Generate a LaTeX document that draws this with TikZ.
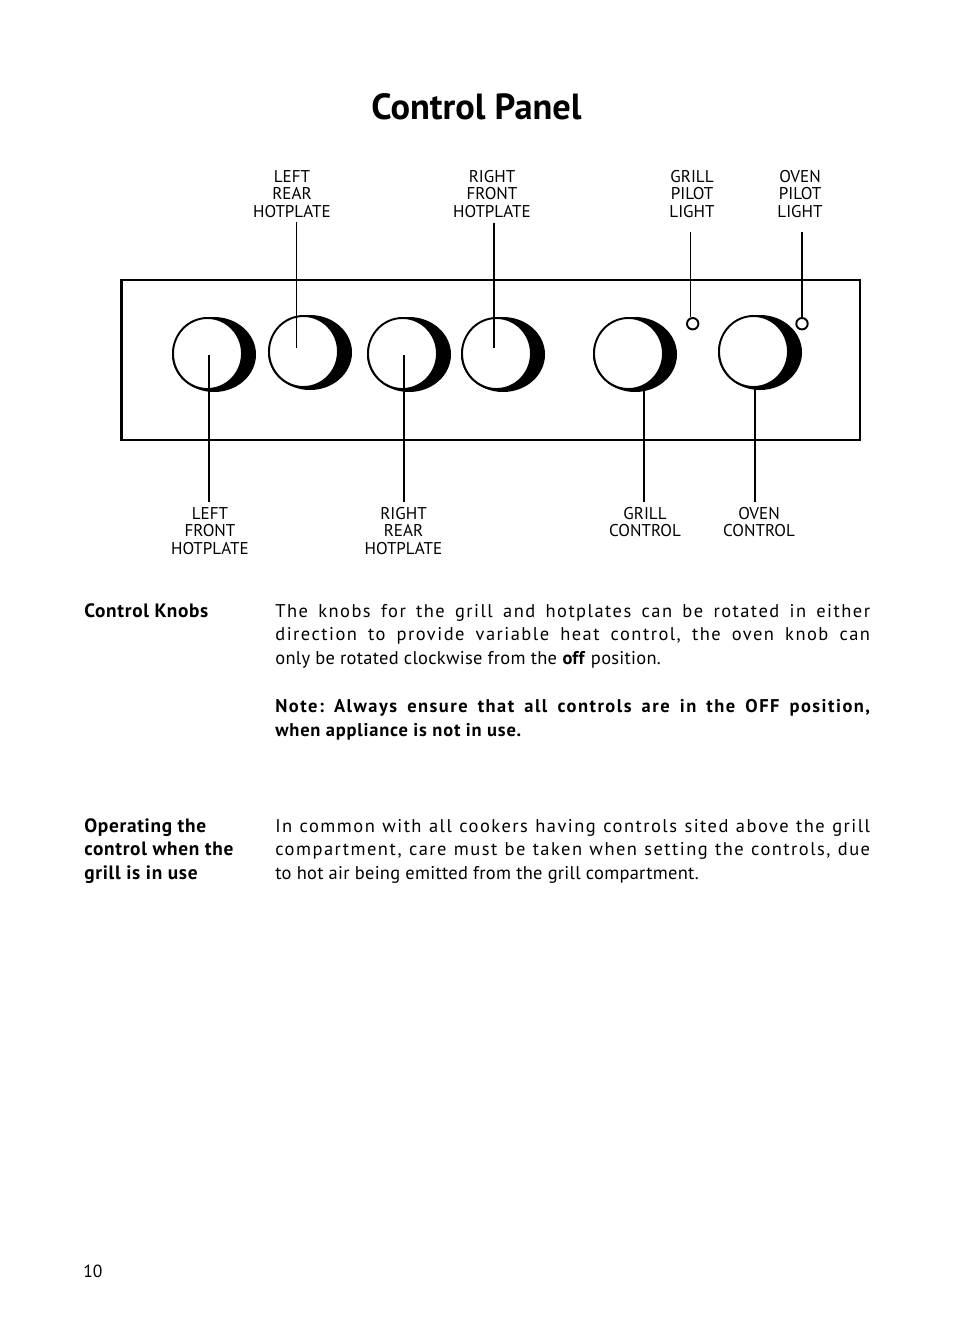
\documentclass[tikz,border=0pt]{standalone}
\usepackage{fontspec}
\setmainfont{PT Sans}
\newfontfamily\spacedfont[LetterSpace=8]{PT Sans}
\newfontfamily\plainfont[LetterSpace=1.5]{PT Sans}
\newfontfamily\headfont[LetterSpace=3.5]{PT Sans}
\newfontfamily\notefont[LetterSpace=4.3]{PT Sans}
\usetikzlibrary{calc, positioning}
\newcommand{\fullline}[1]{\makebox[338.5pt][s]{#1}}
\frenchspacing
\tikzset{
  x=0.02cm, y=-0.02cm,
  partlabel/.style={font=\fontsize{9.7}{9.9}\selectfont, align=center, inner sep=0pt},
  bodytext/.style={font=\fontsize{10.5}{13.4}\selectfont, align=left, inner sep=0pt, anchor=north west},
  headtext/.style={font=\fontsize{11}{13.4}\selectfont\headfont\bfseries, align=left, inner sep=0pt, anchor=north west},
  leader/.style={line width=1pt},
  lamp/.style={circle, draw, line width=1.1pt, fill=white, minimum size=6.5pt, inner sep=0pt}
}
\begin{document}
\begin{tikzpicture}
  \useasboundingbox (0,0) rectangle (954,1336);
  \node[font=\fontsize{20.7}{22}\selectfont\bfseries, inner sep=0pt] (title) at (476.5,107) {Control Panel};

  % panel and knobs
  \draw[line width=1.6pt] (121.5,280) rectangle (860,440);
  \foreach \x/\y in {172/354.5, 268/352.5, 367/354.5, 461/354.5, 593/354.5, 718/352.5} {
    \fill (\x+42,\y) ellipse (42 and 37.5);
    \draw[line width=1.1pt, fill=white] (\x+35.5,\y-1) ellipse (34.5 and 35.5);
  }
  \node[lamp] (gplamp) at (692.7,323.7) {};
  \node[lamp] (oplamp) at (802,323.7) {};

  % labels above
  \node[partlabel] (lrlabel) at (292,194) {LEFT\\REAR\\HOTPLATE};
  \node[partlabel] (rflabel) at (492,194) {RIGHT\\FRONT\\HOTPLATE};
  \node[partlabel] (gplabel) at (692,194) {GRILL\\PILOT\\LIGHT};
  \node[partlabel] (oplabel) at (800,194) {OVEN\\PILOT\\LIGHT};

  % labels below
  \node[partlabel] (lflabel) at (210,531) {LEFT\\FRONT\\HOTPLATE};
  \node[partlabel] (rrlabel) at (403.5,531) {RIGHT\\REAR\\HOTPLATE};
  \node[partlabel, anchor=north] (gclabel) at (645,507) {GRILL\\CONTROL};
  \node[partlabel, anchor=north] (oclabel) at (759,507) {OVEN\\CONTROL};

  % leaders
  \coordinate (lrtip) at (296.5,348);
  \coordinate (rftip) at (494,348);
  \coordinate (lftip) at (209,355);
  \coordinate (rrtip) at (404,355);
  \coordinate (gctip) at (644,391);
  \coordinate (octip) at (755,389);
  \draw[leader] ($(lrlabel.south -| lrtip)+(0,4)$) -- (lrtip);
  \draw[leader] ($(rflabel.south -| rftip)+(0,5)$) -- (rftip);
  \draw[leader] ($(gplabel.south -| gplamp.110)+(0,14)$) -- (gplamp.110);
  \draw[leader] ($(oplabel.south -| oplamp.north)+(0,14)$) -- (oplamp.north);
  \draw[leader] ($(lflabel.north -| lftip)+(0,-5)$) -- (lftip);
  \draw[leader] ($(rrlabel.north -| rrtip)+(0,-5)$) -- (rrtip);
  \draw[leader] ($(gclabel.north -| gctip)+(0,-5)$) -- (gctip);
  \draw[leader] ($(oclabel.north -| octip)+(0,-5)$) -- (octip);

  % text
  \node[headtext] (kbhead) at (84,603) {Control Knobs};
  \node[bodytext] (kbbody) at (275,604) {{\spacedfont\fullline{The knobs for the grill and hotplates can be rotated in either}}\\
    {\spacedfont\fullline{direction to provide variable heat control, the oven knob can}}\\
    {\plainfont only be rotated clockwise from the \textbf{off} position.}};
  \node[bodytext] (kbnote) at (275,699) {{\spacedfont\bfseries\fullline{Note: Always ensure that all controls are in the OFF position,}}\\
    {\notefont\bfseries when appliance is not in use.}};
  \node[headtext] (ophead) at (84,818) {Operating the\\control when the\\grill is in use};
  \node[bodytext] (opbody) at (275,819) {{\spacedfont\fullline{In common with all cookers having controls sited above the grill}}\\
    {\spacedfont\fullline{compartment, care must be taken when setting the controls, due}}\\
    {\plainfont to hot air being emitted from the grill compartment.}};
  \node[font=\fontsize{10}{12}\selectfont, inner sep=0pt, anchor=west] (pageno) at (83,1271) {10};
\end{tikzpicture}
\end{document}
